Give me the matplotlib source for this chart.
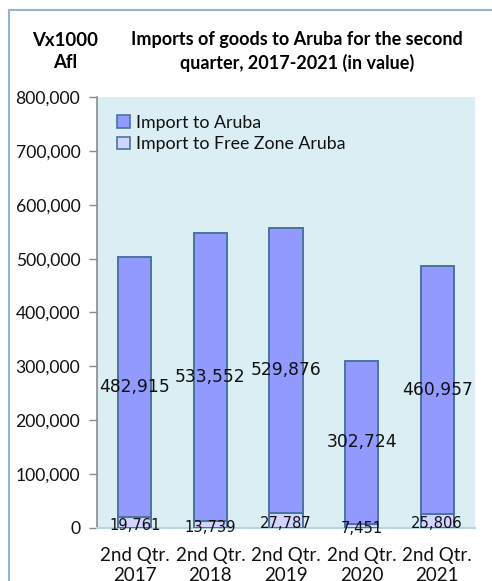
import matplotlib
matplotlib.use("Agg")
import matplotlib.pyplot as plt
from matplotlib.lines import Line2D
from matplotlib.patches import Patch
import numpy as np

categories = ["2nd Qtr.\n2017", "2nd Qtr.\n2018", "2nd Qtr.\n2019", "2nd Qtr.\n2020", "2nd Qtr.\n2021"]
free_zone = [19761, 13739, 27787, 7451, 25806]
aruba = [482915, 533552, 529876, 302724, 460957]
series_names = ["Import to Aruba", "Import to Free Zone Aruba"]
yticks = [0, 100000, 200000, 300000, 400000, 500000, 600000, 700000, 800000]

c_aruba = "#9299FF"
c_fz = "#D2D3FF"
c_edge = "#4A73A0"

fig = plt.figure(figsize=(4.92, 5.81), dpi=100)
ax = fig.add_axes([97/492, 1-528/581, 378/492, 431/581])
ax.set_facecolor("#DAEEF3")

x = np.arange(len(categories))
bw = 0.44
ax.bar(x, free_zone, bw, color=c_fz, edgecolor=c_edge, linewidth=1.4, zorder=3)
ax.bar(x, aruba, bw, bottom=free_zone, color=c_aruba, edgecolor=c_edge, linewidth=1.4, zorder=3)

for xi, fz, ar in zip(x, free_zone, aruba):
    ax.text(xi, fz + ar / 2, f"{ar:,}", ha="center", va="center",
            fontsize=12.3, family="DejaVu Sans", color="#111111", zorder=5)
    ax.annotate(f"{fz:,}", (xi, fz / 2), xytext=(0, -2), textcoords="offset points",
                ha="center", va="center", fontsize=10.6, family="DejaVu Sans",
                color="#111111", zorder=5, annotation_clip=False)

ax.set_xlim(-0.5, len(categories) - 0.5)
ax.set_ylim(0, 800000)
ax.set_yticks(yticks)
ax.set_yticklabels([f"{v:,}" for v in yticks], family="Lato", fontsize=12.6, color="#111111")
ax.set_xticks(x)
ax.set_xticklabels(categories, family="Lato", fontsize=13.5, linespacing=1.2, color="#111111")
ax.tick_params(axis="y", direction="out", length=6, width=1, color="#8c8c8c", pad=6)
ax.tick_params(axis="x", length=0, pad=14)

for s in ["top", "right"]:
    ax.spines[s].set_visible(False)
ax.spines["left"].set_color("#8c8c8c")
ax.spines["left"].set_linewidth(1.2)
ax.spines["bottom"].set_color("#B9D5E5")
ax.spines["bottom"].set_linewidth(1.5)

handles = [Patch(facecolor=c_aruba, edgecolor=c_edge, linewidth=1.2),
           Patch(facecolor=c_fz, edgecolor=c_edge, linewidth=1.2)]
leg = ax.legend(handles, series_names, loc="upper left", bbox_to_anchor=(0.035, 0.975),
                frameon=False, prop={"family": "Lato", "size": 12.8},
                handlelength=0.7, handleheight=0.7, handletextpad=0.35,
                labelspacing=0.3, borderaxespad=0)
for t in leg.get_texts():
    t.set_color("#111111")

fig.text(297/492, 1-40/581, "Imports of goods to Aruba for the second", ha="center", va="center",
         family="Lato", weight="bold", fontsize=13)
fig.text(297/492, 1-63/581, "quarter, 2017-2021 (in value)", ha="center", va="center",
         family="Lato", weight="bold", fontsize=13)
fig.text(65/492, 1-40/581, "Vx1000", ha="center", va="center",
         family="Lato", weight="bold", fontsize=13.4)
fig.text(65/492, 1-63/581, "Afl", ha="center", va="center",
         family="Lato", weight="bold", fontsize=13.4)

# outer chart border (left and top visible)
fig.add_artist(Line2D([8.5/492, 8.5/492], [0, 1-10/581], color="#95B3D7", linewidth=1.5))
fig.add_artist(Line2D([8.5/492, 1], [1-10/581, 1-10/581], color="#95B3D7", linewidth=1.5))

fig.savefig("out.png", dpi=100, facecolor="white")
